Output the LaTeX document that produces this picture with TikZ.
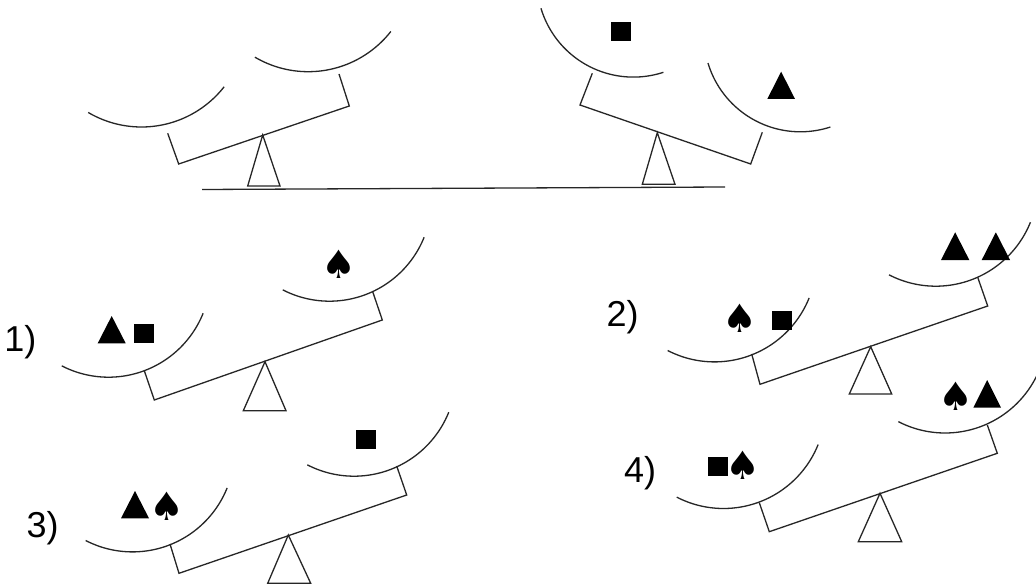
\documentclass[tikz,border=0pt]{standalone}
\usepackage{fontspec}
\setmainfont{Liberation Sans}
\newfontfamily\dejavu{DejaVu Sans}
\tikzset{
  ln/.style={line width=1.3pt, line join=miter, draw=black!85},
  lbl/.style={inner sep=0pt, anchor=base west, font=\fontsize{36}{40}\selectfont},
  spd/.style={inner sep=0pt, anchor=center, font=\dejavu\fontsize{39}{40}\selectfont}
}
\newcommand\mypan[5]{\draw[ln] plot[domain=#4:#5, samples=60] ({#1+#3*cos(\x)},{#2+#3*sin(\x)});}
\newcommand\mytri[4]{\fill (#1,#4) -- (#2,#4) -- ({(#1+#2)/2},#3) -- cycle;}
\newcommand\mysq[4]{\fill (#1,#2) rectangle (#3,#4);}
\begin{document}
\begin{tikzpicture}[x=1pt,y=-1pt]
\useasboundingbox (0,0) rectangle (1036,588);
\clip (0,0) rectangle (1036,588);
\fill[white] (0,0) rectangle (1036,588);
% ---------- top: ground ----------
\draw[ln] (202,189.5) -- (725,187);
% ---------- top left seesaw ----------
\mypan{141.5}{22}{105}{120.5}{38.1}
\mypan{308.2}{-33.3}{105}{120.5}{38.1}
\draw[ln] (167.7,133.3) -- (178.7,164) -- (349.3,106) -- (339,74);
\draw[ln] (262.7,135) -- (247.7,186) -- (280,186) -- cycle;
% ---------- top right seesaw ----------
\mypan{633.4}{-19.4}{96.5}{163.3}{71.9}
\mypan{800.4}{35.3}{96.5}{163.3}{71.9}
\draw[ln] (592.3,73.3) -- (580,105) -- (750.7,164) -- (762.3,132.3);
\draw[ln] (657.3,132.7) -- (642.3,184.3) -- (675,184.3) -- cycle;
\mysq{611}{21.7}{630.7}{40.7}
\mytri{767.3}{795}{71.7}{99}
% ---------- seesaw 1 ----------
\node[lbl] (l1) at (4.1,351.2) {1)};
\mypan{108.5}{275.2}{102}{117.3}{21.9}
\mypan{329.5}{199.2}{102}{117.3}{21.9}
\draw[ln] (144.3,370.7) -- (154.3,400) -- (382.3,320) -- (372.7,291.7);
\draw[ln] (265,361.7) -- (243.3,410.7) -- (286,410.7) -- cycle;
\mytri{97.7}{125.7}{316}{343.3}
\mysq{134.3}{324.3}{154.3}{343.3}
\node[spd] (s1) at (338.7,264) {♠};
% ---------- seesaw 2 ----------
\node[lbl] (l2) at (606.5,326.2) {2)};
\mypan{714.5}{259.9}{102}{117.3}{21.9}
\mypan{935.8}{184.2}{102}{117.3}{21.9}
\draw[ln] (751.7,354) -- (760,384.3) -- (987.7,306) -- (977.7,277.3);
\draw[ln] (870.7,346.7) -- (849.3,394) -- (891.7,394) -- cycle;
\node[spd] (s2) at (740,318.7) {♠};
\mysq{771.7}{311}{791.7}{330}
\mytri{941}{969.3}{232.3}{260}
\mytri{981.7}{1010}{232.3}{260}
% ---------- seesaw 3 ----------
\node[lbl] (l3) at (26.5,537.9) {3)};
\mypan{132.5}{449.9}{102}{117.3}{21.9}
\mypan{354.1}{374.2}{102}{117.3}{21.9}
\draw[ln] (170,544) -- (179,573.3) -- (406.7,495) -- (396.7,466);
\draw[ln] (288.3,535) -- (267.7,583.3) -- (310.7,583.3) -- cycle;
\mytri{121}{149}{491}{518.3}
\node[spd] (s3) at (167.2,506.7) {♠};
\mysq{356}{430}{376}{449}
% ---------- seesaw 4 ----------
\node[lbl] (l4) at (624,482.9) {4)};
\mypan{723.5}{406.5}{102}{117.3}{21.9}
\mypan{945.1}{331}{102}{117.3}{21.9}
\draw[ln] (759.3,502.7) -- (769.3,531.7) -- (997.3,453.3) -- (987.3,425);
\draw[ln] (880,493.3) -- (858.3,541.7) -- (901.7,541.7) -- cycle;
\mysq{708.3}{456.7}{727.7}{476}
\node[spd] (s4) at (742.7,465) {♠};
\node[spd] (s5) at (955.8,395.8) {♠};
\mytri{973.3}{1001}{380}{407.7}
\end{tikzpicture}
\end{document}
